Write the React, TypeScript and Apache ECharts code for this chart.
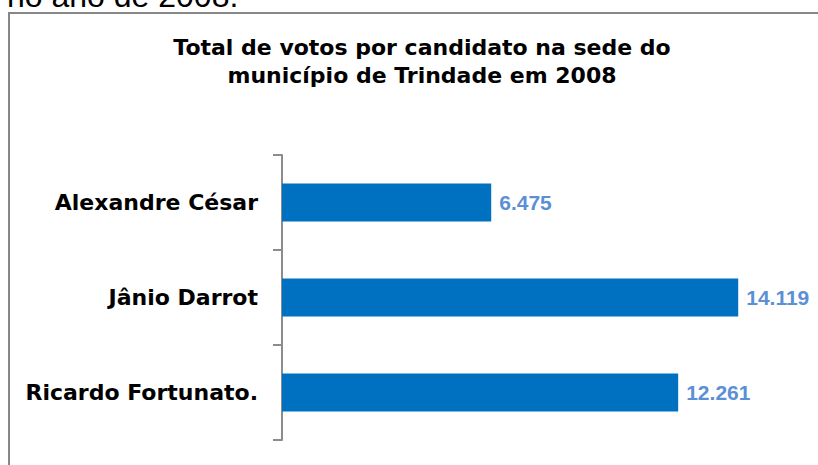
import React, { useEffect, useRef } from "react";
import * as echarts from "echarts";

const categories = ["Alexandre César", "Jânio Darrot", "Ricardo Fortunato."];
const votes = [6475, 14119, 12261];
const titleLines = ["Total de votos por candidato na sede do", "município de Trindade em 2008"];
const clippedCaption = "no ano de 2008.";

const fmt = (v: number) => String(v).replace(/\B(?=(\d{3})+(?!\d))/g, ".");

export default function App() {
  const ref = useRef<HTMLDivElement>(null);
  useEffect(() => {
    if (!ref.current) return;
    const chart = echarts.init(ref.current, undefined, { renderer: "svg" });
    chart.setOption({
      animation: false,
      backgroundColor: "#ffffff",
      title: {
        text: titleLines.join("\n"),
        left: 422,
        top: 33,
        textAlign: "center",
        padding: 0,
        textStyle: {
          fontFamily: "DejaVu Sans",
          fontWeight: "bold",
          fontSize: 22,
          lineHeight: 28,
          color: "#000000",
        },
      },
      graphic: [
        {
          type: "rect",
          shape: { x: 9, y: 13, width: 900, height: 600 },
          style: { fill: "none", stroke: "#878787", lineWidth: 2 },
          silent: true,
        },
        {
          type: "text",
          x: 7,
          y: -4,
          style: {
            text: clippedCaption,
            fontFamily: "Liberation Sans, Arial",
            fontSize: 32,
            fill: "#000000",
            verticalAlign: "middle",
            align: "left",
          },
        },
      ],
      grid: { left: 282, right: 19, top: 155, bottom: 25, containLabel: false },
      xAxis: {
        type: "value",
        min: 0,
        max: 16000,
        show: false,
      },
      yAxis: {
        type: "category",
        data: categories,
        inverse: true,
        axisLine: { show: true, lineStyle: { color: "#8c8c8c", width: 2 } },
        axisTick: { show: true, length: 9, lineStyle: { color: "#8c8c8c", width: 2 } },
        axisLabel: {
          margin: 24,
          fontFamily: "DejaVu Sans",
          fontWeight: "bold",
          fontSize: 22,
          color: "#000000",
        },
        splitLine: { show: false },
      },
      series: [
        {
          type: "bar",
          data: votes,
          barWidth: "40%",
          itemStyle: { color: "#0070C0" },
          label: {
            show: true,
            position: "right",
            distance: 8,
            formatter: (p: any) => fmt(p.value),
            fontFamily: "Liberation Sans, Arial",
            fontWeight: "bold",
            fontSize: 21,
            color: "#5B8FD6",
          },
        },
      ],
    });
    return () => chart.dispose();
  }, []);
  return (
    <div
      ref={ref}
      style={{ position: "fixed", left: 0, top: 0, width: 818, height: 465 }}
    />
  );
}
